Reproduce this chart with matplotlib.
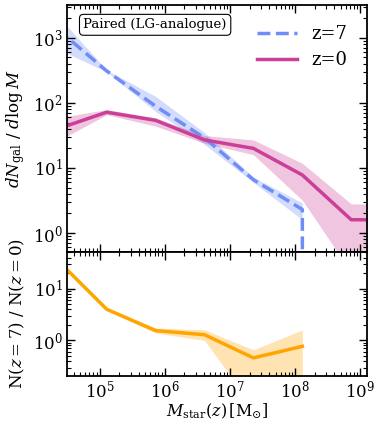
import numpy as np
import matplotlib
matplotlib.use('Agg')
import matplotlib.pyplot as plt

plt.rcParams['font.family'] = 'DejaVu Serif'
plt.rcParams['mathtext.fontset'] = 'dejavuserif'

# bin centres in log10(M_star)
log_mass = [4.36, 5.11, 5.86, 6.61, 7.36, 8.11, 8.86, 9.61]

# z=7 mass function (0 = empty bin)
z7 = [1350, 310, 89, 29, 6.6, 2.3, 0, 0]
z7_hi = [2180, 320, 126, 35, 7.2, 2.9, 0, 0]
z7_lo = [675, 300, 74, 23, 6.0, 1.6, 0, 0]

# z=0 mass function
z0 = [40, 72, 54, 27, 20, 7.8, 1.6, 1.6]
z0_hi = [59, 79, 59, 31.5, 27, 11.8, 2.8, 2.8]
z0_lo = [26, 66, 44, 24, 16, 3.2, 0.25, 0.25]

# ratio N(z=7)/N(z=0)
ratio = [35, 4.0, 1.55, 1.29, 0.46, 0.77, np.nan, np.nan]
ratio_hi = [37, 4.1, 1.74, 1.6, 0.66, 1.6, np.nan, np.nan]
ratio_lo = [33, 3.9, 1.39, 1.0, 0.05, 0.05, np.nan, np.nan]

c7 = '#6f8cf7'
c0 = '#cc3f98'
cr = '#ffa500'

m = 10 ** np.array(log_mass)

fig, (ax1, ax2) = plt.subplots(2, 1, sharex=True, figsize=(3.74, 4.21), dpi=100,
                               gridspec_kw={'height_ratios': [2, 1], 'hspace': 0})
fig.subplots_adjust(left=0.179, right=0.981, top=0.988, bottom=0.108)

ok7 = np.array(z7_lo) > 0
ax1.fill_between(m, z7_lo, z7_hi, where=ok7, color=c7, alpha=0.3, lw=0)
ax1.plot(m, z7, '--', color=c7, lw=2.5, label='z=7')
ax1.fill_between(m, z0_lo, z0_hi, color=c0, alpha=0.3, lw=0)
ax1.plot(m, z0, '-', color=c0, lw=2.5, label='z=0')

ax2.fill_between(m, ratio_lo, ratio_hi, color=cr, alpha=0.3, lw=0)
ax2.plot(m, ratio, '-', color=cr, lw=2.5)

for ax in (ax1, ax2):
    ax.set_xscale('log')
    ax.set_yscale('log')
    ax.tick_params(which='both', direction='in', top=True, right=True, labelsize=12, pad=3)
    ax.tick_params(which='major', length=6, width=1)
    ax.tick_params(which='minor', length=3, width=0.8)
    for s in ax.spines.values():
        s.set_linewidth(1.3)

ax1.set_xlim(10 ** 4.5, 10 ** 9.1)
ax1.set_ylim(0.51, 3200)
ax2.set_ylim(0.21, 51)

ax1.set_ylabel(r'$dN_{\rm gal}\ /\ d\log M$', fontsize=12)
ax2.set_ylabel(r'N$(z=7)$ / N$(z=0)$', fontsize=12)
ax2.set_xlabel(r'$M_{\rm star}(z)\,[\rm M_{\odot}]$', fontsize=11.5, labelpad=0)

ax1.legend(loc='upper right', frameon=False, fontsize=13, handlelength=2.2,
           borderaxespad=0.7, labelspacing=0.45)
ax1.text(0.055, 0.92, 'Paired (LG-analogue)', transform=ax1.transAxes, fontsize=9.5,
         va='center', ha='left',
         bbox=dict(boxstyle='round,pad=0.3', fc='white', ec='black', lw=0.8))

fig.align_ylabels([ax1, ax2])
fig.savefig('out.png', dpi=100)
